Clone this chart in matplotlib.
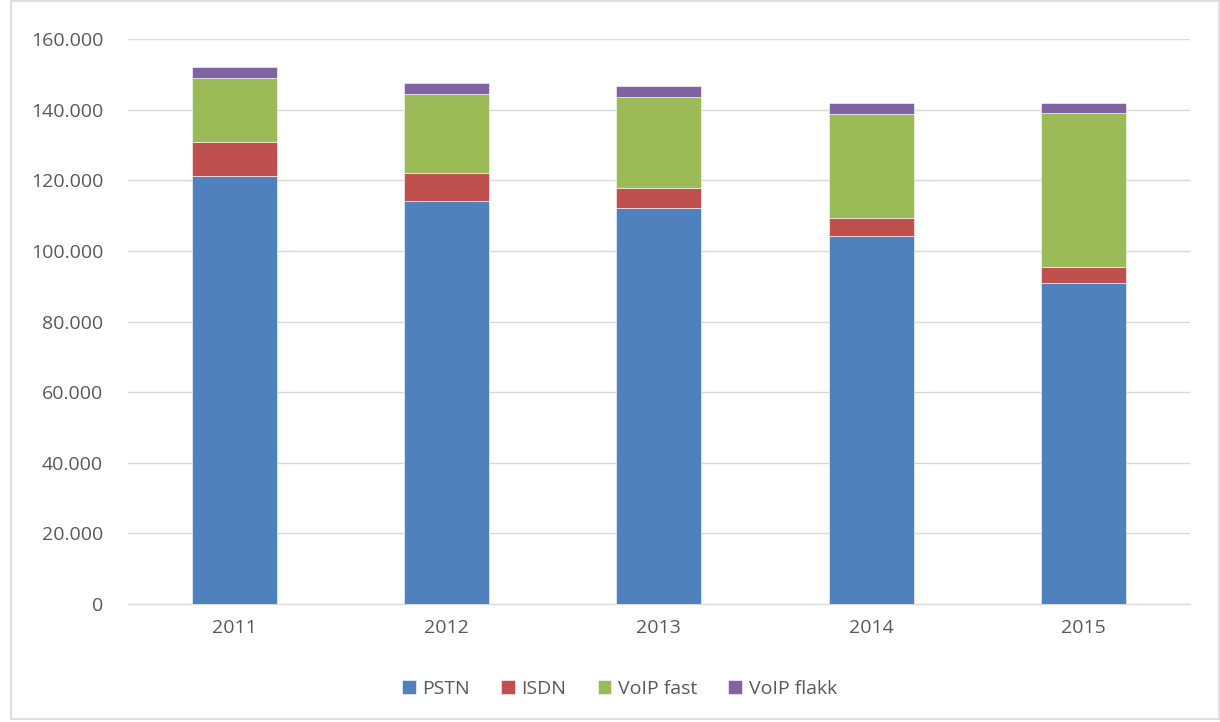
import matplotlib.pyplot as plt
from matplotlib.ticker import FuncFormatter, MultipleLocator
from matplotlib.patches import Rectangle
import numpy as np

YEARS = ["2011", "2012", "2013", "2014", "2015"]
PSTN = [121300, 114000, 112000, 104200, 90900]
ISDN = [9600, 8100, 5700, 5100, 4500]
VOIP_FAST = [18000, 22200, 25900, 29600, 43600]
VOIP_FLAKK = [3300, 3300, 3100, 3000, 2900]

SERIES = [
    ("PSTN", PSTN, "#4F81BD"),
    ("ISDN", ISDN, "#C0504D"),
    ("VoIP fast", VOIP_FAST, "#9BBB59"),
    ("VoIP flakk", VOIP_FLAKK, "#8064A2"),
]
TEXT_COLOR = "#595959"
GRID_COLOR = "#d9d9d9"

plt.rcParams["font.family"] = ["Open Sans", "DejaVu Sans"]

fig = plt.figure(figsize=(12.2, 7.22), dpi=100)
fig.patches.append(Rectangle((0.009, 0.004), 0.99, 0.994, transform=fig.transFigure,
                             fill=False, edgecolor=GRID_COLOR, lw=1.2))
ax = fig.add_axes([0.105, 0.1634, 0.870, 0.7826])

x = np.arange(len(YEARS))
bottom = np.zeros(len(YEARS))
for name, vals, color in SERIES:
    ax.bar(x, vals, width=0.4, bottom=bottom, color=color, label=name,
           edgecolor="white", linewidth=0.4, zorder=3)
    bottom += np.array(vals)

ax.set_xlim(-0.5, len(YEARS) - 0.5)
ax.set_ylim(0, 160000)
ax.yaxis.set_major_locator(MultipleLocator(20000))
ax.yaxis.set_major_formatter(FuncFormatter(lambda v, p: f"{int(v):,}".replace(",", ".")))
ax.set_xticks(x, YEARS)
ax.grid(axis="y", color=GRID_COLOR, lw=1, zorder=0)
for s in ["top", "right", "left"]:
    ax.spines[s].set_visible(False)
ax.spines["bottom"].set_color(GRID_COLOR)
ax.tick_params(length=0, labelsize=14, labelcolor=TEXT_COLOR)
ax.tick_params(axis="y", pad=18)
ax.tick_params(axis="x", pad=11)

ax.legend(loc="center", bbox_to_anchor=(0.463, -0.15), ncol=4, frameon=False,
          fontsize=14, labelcolor=TEXT_COLOR, handlelength=0.7, handleheight=0.7,
          handletextpad=0.35, columnspacing=1.6)

fig.savefig("out.png", dpi=100)
